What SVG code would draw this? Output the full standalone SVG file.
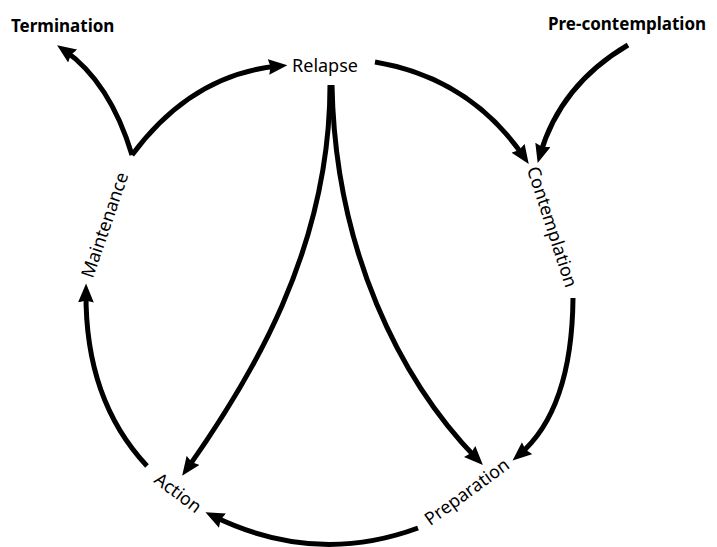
<svg xmlns="http://www.w3.org/2000/svg" width="717" height="547" viewBox="0 0 717 547">
<style>
.lbl{font-family:"Noto Sans","Open Sans","Liberation Sans",sans-serif;fill:#000}
.b{font-weight:bold;font-size:17px}
.r{font-size:18px}
.c{fill:none;stroke:#000;stroke-width:5;stroke-linecap:butt}
</style>
<defs>
<marker id="ah" markerUnits="userSpaceOnUse" markerWidth="20" markerHeight="16" refX="10" refY="7.5" orient="auto" viewBox="0 0 19 15">
<path d="M0,0 L18,7.5 L0,15 L2,7.5 z" fill="#000"/>
</marker>
</defs>
<rect width="717" height="547" fill="#fff"/>
<g id="connectors">
<path class="c" d="M132,155 Q110,82 64,50" marker-end="url(#ah)"/>
<path class="c" d="M132,155 Q192,74 279,66" marker-end="url(#ah)"/>
<path class="c" d="M375,62 Q470,78 524,157" marker-end="url(#ah)"/>
<path class="c" d="M628,45 Q560,85 540,155" marker-end="url(#ah)"/>
<path class="c" d="M573,298 Q572,410 519,455" marker-end="url(#ah)"/>
<path class="c" d="M330,85 C330,250 250,380 187,469" marker-end="url(#ah)"/>
<path class="c" d="M332,85 C335,250 400,380 477,459" marker-end="url(#ah)"/>
<path class="c" d="M147,466 Q85,400 86,292" marker-end="url(#ah)"/>
<path class="c" d="M418,528 Q315,566 213,516" marker-end="url(#ah)"/>
</g>
<g id="termination"><text class="lbl b" x="11" y="32">Termination</text></g>
<g id="precontemplation"><text class="lbl b" x="548" y="30">Pre-contemplation</text></g>
<g id="relapse"><text class="lbl r" x="325" y="72" text-anchor="middle">Relapse</text></g>
<g id="maintenance"><text class="lbl r" text-anchor="middle" transform="translate(105,225) rotate(-71)" y="6">Maintenance</text></g>
<g id="contemplation"><text class="lbl r" text-anchor="middle" transform="translate(552,227) rotate(72)" y="6">Contemplation</text></g>
<g id="preparation"><text class="lbl r" text-anchor="middle" transform="translate(467,492) rotate(-36)" y="6">Preparation</text></g>
<g id="action"><text class="lbl r" text-anchor="middle" transform="translate(178,493) rotate(37)" y="6">Action</text></g>
</svg>
